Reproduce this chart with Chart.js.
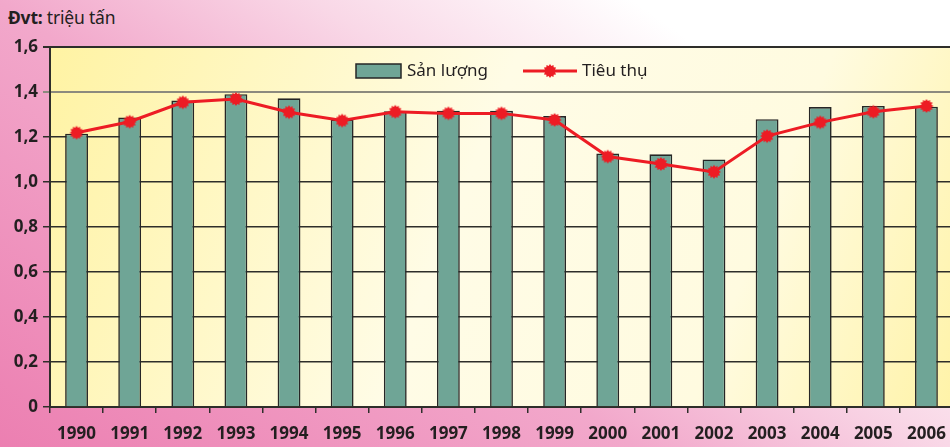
<!DOCTYPE html>
<html lang="vi">
<head>
<meta charset="utf-8">
<title>Sản lượng và tiêu thụ</title>
<script src="https://cdn.jsdelivr.net/npm/chart.js@4.4.1/dist/chart.umd.min.js"></script>
<style>
  html, body { margin: 0; padding: 0; width: 950px; height: 447px; overflow: hidden; }
  body {
    background: linear-gradient(35deg, #ec7fb1 0%, #f2a8cb 40%, #f9d8e7 60%, #ffffff 80%);
    font-family: "Noto Sans", sans-serif;
    position: relative;
  }
  #khung { position: absolute; left: 0; top: 0; width: 960px; height: 447px; }
  #donvi { position: absolute; left: 8px; top: 5px; font-size: 17.5px; color: #231f20; letter-spacing: -0.2px; }
  #donvi b { font-weight: 700; }
</style>
</head>
<body>
<div id="donvi"><b>Đvt:</b> triệu tấn</div>
<div id="khung"><canvas id="bieuDo"></canvas></div>
<script>
// === Dữ liệu ===
const nam = ["1990", "1991", "1992", "1993", "1994", "1995", "1996", "1997", "1998",
             "1999", "2000", "2001", "2002", "2003", "2004", "2005", "2006"];
const sanLuong = [1.215, 1.287, 1.362, 1.39, 1.372, 1.278, 1.315, 1.317, 1.317,
                  1.293, 1.127, 1.123, 1.10, 1.279, 1.333, 1.338, 1.335];
const tieuThu = [1.219, 1.268, 1.354, 1.369, 1.31, 1.273, 1.312, 1.305, 1.305,
                 1.276, 1.113, 1.08, 1.045, 1.204, 1.265, 1.312, 1.338];
const mocTrucY = [0, 0.2, 0.4, 0.6, 0.8, 1.0, 1.2, 1.4, 1.6];

// === Màu ===
const mau = {
  cot: '#6fa596',
  vienCot: '#262626',
  duong: '#ed1c24',
  chu: '#231f20',
  luoi: '#2e2e2a',
  luoiNhat: '#8c8a7e'
};

Chart.defaults.font.family = "'Noto Sans', sans-serif";
Chart.defaults.color = mau.chu;

// Điểm hình ngôi sao răng cưa cho đường tiêu thụ
function taoDiemSao(r) {
  const c = document.createElement('canvas');
  const kt = r * 2 + 2;
  c.width = kt; c.height = kt;
  const g = c.getContext('2d');
  const cx = kt / 2, cy = kt / 2, so = 12;
  g.beginPath();
  for (let i = 0; i < so * 2; i++) {
    const bk = i % 2 === 0 ? r : r * 0.74;
    const goc = (Math.PI * i) / so;
    g.lineTo(cx + bk * Math.cos(goc), cy + bk * Math.sin(goc));
  }
  g.closePath();
  g.fillStyle = mau.duong;
  g.fill();
  return c;
}
const diemSao = taoDiemSao(7);

const laGiaTri = (v, x) => Math.abs(v - x) < 1e-6;

// === Nền vàng cho vùng vẽ ===
const nenVung = {
  id: 'nenVung',
  beforeDraw(chart) {
    const { ctx, chartArea: a } = chart;
    const gr = ctx.createLinearGradient(a.left, a.top, a.right, a.bottom);
    gr.addColorStop(0, '#fff3a3');
    gr.addColorStop(0.45, '#fffce6');
    gr.addColorStop(0.75, '#fffbe0');
    gr.addColorStop(1, '#fff3a8');
    ctx.save();
    ctx.fillStyle = gr;
    ctx.fillRect(a.left, a.top, a.right - a.left, a.bottom - a.top);
    ctx.restore();
  }
};

// === Chú thích vẽ bên trong vùng biểu đồ ===
const chuThich = {
  id: 'chuThich',
  afterDraw(chart) {
    const { ctx } = chart;
    const dsCot = chart.data.datasets[0];
    const dsDuong = chart.data.datasets[1];
    const y = 71;
    ctx.save();
    ctx.font = "17px 'Noto Sans', sans-serif";
    ctx.textBaseline = 'middle';
    ctx.fillStyle = dsCot.backgroundColor;
    ctx.fillRect(356, y - 7, 45, 14);
    ctx.strokeStyle = dsCot.borderColor;
    ctx.lineWidth = 1.5;
    ctx.strokeRect(356, y - 7, 45, 14);
    ctx.fillStyle = mau.chu;
    ctx.fillText(dsCot.label, 407, y);

    ctx.strokeStyle = dsDuong.borderColor;
    ctx.lineWidth = 3;
    ctx.beginPath();
    ctx.moveTo(523, y);
    ctx.lineTo(577, y);
    ctx.stroke();
    ctx.drawImage(diemSao, 550 - diemSao.width / 2, y - diemSao.height / 2);
    ctx.fillStyle = mau.chu;
    ctx.fillText(dsDuong.label, 582, y);
    ctx.restore();
  }
};

new Chart(document.getElementById('bieuDo'), {
  type: 'bar',
  data: {
    labels: nam,
    datasets: [{
      type: 'bar',
      label: 'Sản lượng',
      data: sanLuong,
      backgroundColor: mau.cot,
      borderColor: mau.vienCot,
      borderWidth: 1.6,
      categoryPercentage: 1,
      barPercentage: 0.43,
      order: 2
    }, {
      type: 'line',
      label: 'Tiêu thụ',
      data: tieuThu,
      borderColor: mau.duong,
      backgroundColor: mau.duong,
      borderWidth: 3,
      pointStyle: diemSao,
      tension: 0,
      order: 1
    }]
  },
  options: {
    responsive: true,
    maintainAspectRatio: false,
    animation: false,
    layout: { padding: { top: 47, right: 2, left: 0, bottom: 0 } },
    plugins: {
      legend: { display: false },
      tooltip: { enabled: false }
    },
    scales: {
      x: {
        offset: true,
        afterFit: (s) => { s.height = 40; },
        grid: {
          offset: true,
          drawOnChartArea: false,
          drawTicks: true,
          tickLength: 6,
          tickColor: mau.luoi,
          lineWidth: 1.5
        },
        border: { color: mau.luoi, width: 2 },
        ticks: {
          padding: 11,
          maxRotation: 0,
          autoSkip: false,
          font: { size: 17, weight: 'bold' },
          color: mau.chu
        }
      },
      y: {
        min: 0,
        max: 1.6,
        afterFit: (s) => { s.width = 50; },
        afterBuildTicks: (s) => { s.ticks = mocTrucY.map(v => ({ value: v })); },
        grid: {
          color: (c) => laGiaTri(c.tick.value, 1.4) ? mau.luoiNhat : mau.luoi,
          lineWidth: (c) => laGiaTri(c.tick.value, 1.6) ? 2 : (laGiaTri(c.tick.value, 1.4) ? 2 : 1.5),
          tickLength: 7,
          tickColor: (c) => laGiaTri(c.tick.value, 1.4) ? mau.luoiNhat : mau.luoi
        },
        border: { color: mau.luoi, width: 2 },
        ticks: {
          padding: 5,
          font: { size: 17, weight: 'bold' },
          color: mau.chu,
          callback: (v) => v === 0 ? '0' : v.toFixed(1).replace('.', ',')
        }
      }
    }
  },
  plugins: [nenVung, chuThich]
});
</script>
</body>
</html>
